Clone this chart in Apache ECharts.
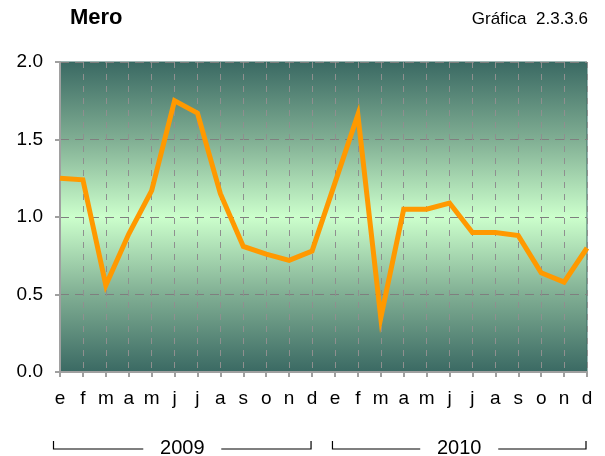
<!DOCTYPE html>
<html>
<head>
<meta charset="utf-8" />
<title>Mero</title>
<script type="text/javascript" src="https://cdn.jsdelivr.net/npm/echarts@6/dist/echarts.min.js"></script>
<style>
  html, body { margin: 0; padding: 0; background: #fff; }
  #container { width: 605px; height: 456px; }
</style>
</head>
<body>
<div id="container"></div>
<script type="text/javascript">
    // meses (e..d) de 2009 y 2010
    var months = ['e','f','m','a','m','j','j','a','s','o','n','d',
                  'e','f','m','a','m','j','j','a','s','o','n','d'];
    var values = [1.25, 1.24, 0.56, 0.89, 1.17, 1.75, 1.67, 1.15, 0.81, 0.76, 0.72, 0.78,
                  1.22, 1.66, 0.35, 1.05, 1.05, 1.09, 0.90, 0.90, 0.88, 0.64, 0.58, 0.80];
    var years = ['2009', '2010'];
    var yTicks = [0, 0.5, 1.0, 1.5, 2.0];

    var dom = document.getElementById("container");
    var myChart = echarts.init(dom);
    var fontFam = '"Liberation Sans", Arial, sans-serif';

    var option = {
        animation: false,
        title: [
            { text: 'Mero', left: 65, top: 2,
              textStyle: { fontFamily: fontFam, fontSize: 22, fontWeight: 'bold', color: '#000' } },
            { text: 'Gráfica  2.3.3.6', right: 12, top: 6,
              textStyle: { fontFamily: fontFam, fontSize: 17, fontWeight: 'normal', color: '#000' } }
        ],
        grid: {
            left: 60, right: 18, top: 62, bottom: 84,
            show: true,
            borderColor: '#3b6a64',
            borderWidth: 1,
            backgroundColor: new echarts.graphic.LinearGradient(0, 0, 0, 1, [
                { offset: 0, color: '#3a6963' },
                { offset: 0.25, color: '#80ae93' },
                { offset: 0.5, color: '#ccffcc' },
                { offset: 0.75, color: '#80ae93' },
                { offset: 1, color: '#3a6963' }
            ])
        },
        xAxis: {
            type: 'category',
            data: months,
            boundaryGap: false,
            axisLine: { lineStyle: { color: '#a0a0a0', width: 2 } },
            axisTick: { show: true, length: 5, inside: false, lineStyle: { color: '#a0a0a0', width: 2 } },
            axisLabel: { color: '#000', fontSize: 19, fontFamily: fontFam, margin: 17, interval: 0 },
            splitLine: { show: true, lineStyle: { color: '#8f8f8f', type: [6, 6], width: 1 } }
        },
        yAxis: {
            type: 'value',
            min: yTicks[0],
            max: yTicks[yTicks.length - 1],
            interval: 0.5,
            axisLine: { show: true, lineStyle: { color: '#a0a0a0', width: 2 } },
            axisTick: { show: true, length: 5, lineStyle: { color: '#a0a0a0', width: 2 } },
            axisLabel: { color: '#000', fontSize: 19, fontFamily: fontFam, margin: 17,
                         formatter: function (v) { return v.toFixed(1); } },
            splitLine: { show: true, lineStyle: { color: '#7f7f7f', type: [9, 6], width: 1 } }
        },
        series: [{
            type: 'line',
            data: values,
            symbol: 'none',
            lineStyle: { color: '#ff9900', width: 5, join: 'miter' },
            z: 5
        }]
    };
    myChart.setOption(option);

    // corchetes de años bajo el eje
    function bracket(i0, i1, label) {
        var x0 = myChart.convertToPixel({ xAxisIndex: 0 }, i0);
        var x1 = myChart.convertToPixel({ xAxisIndex: 0 }, i1) - 1;
        x0 = (i0 === 0) ? x0 - 6.5 : x0 - 2.5;
        var y = 449, yt = 441;
        var mid = (x0 + x1) / 2;
        var half = 39;
        var st = { stroke: '#000', lineWidth: 1.2 };
        return [
            { type: 'polyline', shape: { points: [[x0, yt], [x0, y], [mid - half, y]] }, style: st, silent: true },
            { type: 'polyline', shape: { points: [[mid + half, y], [x1, y], [x1, yt]] }, style: st, silent: true },
            { type: 'text', x: mid, y: 448, style: { text: label, fill: '#000', font: '20px ' + fontFam,
              align: 'center', verticalAlign: 'middle' }, silent: true }
        ];
    }
    myChart.setOption({
        graphic: bracket(0, 11, years[0]).concat(bracket(12, 23, years[1]))
    });
</script>
</body>
</html>
